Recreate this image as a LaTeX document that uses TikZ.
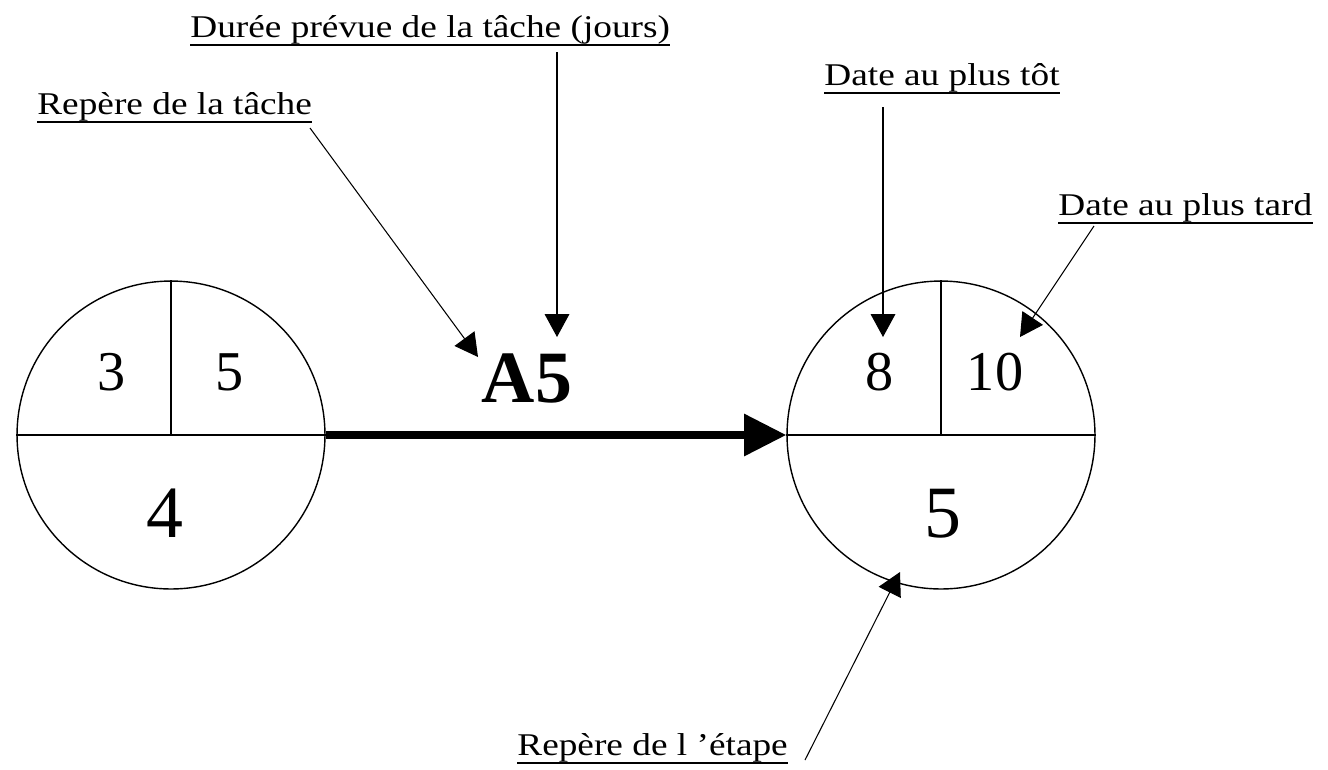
\documentclass[tikz,border=0pt]{standalone}
\usepackage{fontspec}
\setmainfont{Liberation Serif}
\newfontfamily\labelfont[FakeStretch=1.18]{Liberation Serif}
\usepackage{tikz}
\usetikzlibrary{arrows.meta,calc,positioning}

\begin{document}
\begin{tikzpicture}[x=0.02cm,y=-0.02cm,
    event/.style={circle,draw,line width=0.8pt,minimum size=6.16cm,inner sep=0pt},
    num/.style={anchor=base,inner sep=0pt,font=\fontsize{32}{34}\selectfont},
    bignum/.style={anchor=base,inner sep=0pt,font=\fontsize{42}{44}\selectfont},
    note/.style={anchor=base west,inner sep=0pt,font=\labelfont\fontsize{18}{20}\selectfont},
    lead/.style={line width=0.6pt,-{Triangle[length=13pt,width=14pt]}}]
        \useasboundingbox (0,0) rectangle (1328,769);
        %Events
        \node[event] (c1) at (171,435) {};
        \node[event] (c2) at (941,435) {};
        \draw[line width=0.8pt] (c1.west) -- (c1.east);
        \draw[line width=0.8pt] (c1.north) -- (c1.center);
        \draw[line width=0.8pt] (c2.west) -- (c2.east);
        \draw[line width=0.8pt] (c2.north) -- (c2.center);
        %Dates and numbers
        \node[num] (t1) at (112,390) {3};
        \node[num] (l1) at (230,390) {5};
        \node[bignum] (e1) at (165,537) {4};
        \node[num] (t2) at (880,390) {8};
        \node[num] (l2) at (995,390) {10};
        \node[bignum] (e2) at (943,537) {5};
        %Task
        \node[anchor=base,inner sep=0pt,font=\bfseries\fontsize{42}{44}\selectfont] (task) at (527,402) {A5};
        \draw[line width=4.5pt,-{Triangle[length=24pt,width=23pt]}] (c1.east) -- (c2.west);
        %Labels
        \node[note] (tache) at (37,114) {Repère de la tâche};
        \node[note] (duree) at (190,37) {Durée prévue de la tâche (jours)};
        \node[note] (tot) at (824,85) {Date au plus tôt};
        \node[note] (tard) at (1058,215) {Date au plus tard};
        \node[note] (etapelbl) at (517,755) {Repère de l ’étape};
        \foreach \n in {tache,duree,tot,tard,etapelbl}
          \draw[line width=1pt] ([yshift=-4.5pt]\n.base west) -- ([yshift=-4.5pt]\n.base east);
        %Arrow ends
        \coordinate (s1) at (310,128);
        \coordinate (p1) at (478,357);
        \coordinate (s2) at (557,52);
        \coordinate (p2) at (557,337);
        \coordinate (s3) at (883,107);
        \coordinate (p3) at (883,337);
        \coordinate (s4) at (1094,226);
        \coordinate (p4) at (1020,337);
        \coordinate (s5) at (805,760);
        \coordinate (p5) at (900,572);
        %Arrows
        \draw[lead] (s1) -- (p1);
        \draw[lead] (s2) -- (p2);
        \draw[lead] (s3) -- (p3);
        \draw[lead] (s4) -- (p4);
        \draw[lead] (s5) -- (p5);
      \end{tikzpicture}
\end{document}
